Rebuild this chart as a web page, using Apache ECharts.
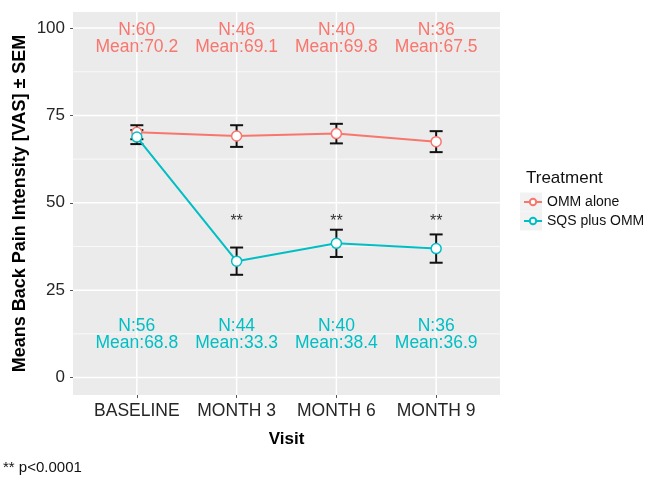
<!DOCTYPE html>
<html>
<head>
<meta charset="utf-8">
<script src="https://cdn.jsdelivr.net/npm/echarts@6/dist/echarts.min.js"></script>
<style>html,body{margin:0;padding:0;background:#fff}#c{width:648px;height:477px}</style>
</head>
<body>
<div id="c"></div>
<script>
// ---- data ----
const categories = ['BASELINE', 'MONTH 3', 'MONTH 6', 'MONTH 9'];
const ommMean = [70.2, 69.1, 69.8, 67.5];
const ommSem = [2.0, 3.1, 2.8, 3.0];
const ommN = [60, 46, 40, 36];
const sqsMean = [68.8, 33.3, 38.4, 36.9];
const sqsSem = [2.0, 3.9, 3.9, 4.05];
const sqsN = [56, 44, 40, 36];
const sigMarks = ['', '**', '**', '**'];
const yTicks = [0, 25, 50, 75, 100];
const yMinor = [12.5, 37.5, 62.5, 87.5];

const RED = '#F8766D', TEAL = '#00BFC4';
const FONT = '"Liberation Sans", Arial, sans-serif';

const chart = echarts.init(document.getElementById('c'), null, {renderer: 'canvas'});

function errData(mean, sem) {
  return mean.map((m, i) => [i, m - sem[i], m + sem[i]]);
}
function errRender(params, api) {
  const x = api.value(0);
  const lo = api.coord([x, api.value(1)]);
  const hi = api.coord([x, api.value(2)]);
  const w = 6.5;
  const st = {stroke: '#111', lineWidth: 2};
  return {type: 'group', children: [
    {type: 'line', shape: {x1: lo[0], y1: lo[1], x2: hi[0], y2: hi[1]}, style: st},
    {type: 'line', shape: {x1: lo[0] - w, y1: lo[1], x2: lo[0] + w, y2: lo[1]}, style: st},
    {type: 'line', shape: {x1: hi[0] - w, y1: hi[1], x2: hi[0] + w, y2: hi[1]}, style: st}
  ]};
}
function annRender(texts, color, yVal, size) {
  return function (params, api) {
    const i = params.dataIndex;
    const p = api.coord([i, yVal]);
    return {type: 'text', x: p[0], y: p[1], style: {
      text: texts[i], fill: color, font: size + 'px ' + FONT,
      align: 'center', verticalAlign: 'middle', lineHeight: 17
    }};
  };
}

const gridSeries = {
  type: 'custom', z: 1, silent: true,
  data: [[0, 0]],
  renderItem: function (params, api) {
    const cs = params.coordSys;
    const ch = [];
    yMinor.forEach(v => {
      const p = api.coord([0, v]);
      ch.push({type: 'line', shape: {x1: cs.x, y1: p[1], x2: cs.x + cs.width, y2: p[1]}, style: {stroke: '#fff', lineWidth: 0.7}});
    });
    yTicks.forEach(v => {
      const p = api.coord([0, v]);
      ch.push({type: 'line', shape: {x1: cs.x, y1: p[1], x2: cs.x + cs.width, y2: p[1]}, style: {stroke: '#fff', lineWidth: 1.5}});
    });
    categories.forEach((c, i) => {
      const p = api.coord([i, 0]);
      ch.push({type: 'line', shape: {x1: p[0], y1: cs.y, x2: p[0], y2: cs.y + cs.height}, style: {stroke: '#fff', lineWidth: 1.5}});
    });
    return {type: 'group', children: ch};
  }
};

const option = {
  animation: false,
  textStyle: {fontFamily: FONT},
  grid: {left: 73, right: 148, top: 12, bottom: 82, show: true, backgroundColor: '#EBEBEB', borderWidth: 0,
         containLabel: false, outerBoundsMode: 'none'},
  xAxis: {
    type: 'value', min: -0.64, max: 3.64,
    name: 'Visit', nameLocation: 'middle', nameGap: 36, nameMoveOverlap: false,
    nameTextStyle: {fontSize: 17, fontWeight: 'bold', color: '#000', fontFamily: FONT},
    axisLine: {show: false, onZero: false},
    axisTick: {show: true, customValues: [0, 1, 2, 3], length: 3, lineStyle: {color: '#555'}},
    axisLabel: {customValues: [0, 1, 2, 3], formatter: v => categories[v], fontSize: 17.5, color: '#262626', margin: 7, fontFamily: FONT},
    splitLine: {show: false}
  },
  yAxis: {
    type: 'value', min: -5, max: 104.6,
    name: 'Means Back Pain Intensity [VAS] \u00B1 SEM', nameLocation: 'middle', nameGap: 44, nameMoveOverlap: false,
    nameTextStyle: {fontSize: 18, fontWeight: 'bold', color: '#000', fontFamily: FONT},
    axisLine: {show: false, onZero: false},
    axisTick: {show: true, customValues: yTicks, length: 3, lineStyle: {color: '#555'}},
    axisLabel: {customValues: yTicks, fontSize: 17, color: '#262626', margin: 8, fontFamily: FONT},
    splitLine: {show: false}
  },
  legend: {
    orient: 'vertical', left: 518, top: 190, itemWidth: 18, itemHeight: 8, itemGap: 5,
    textStyle: {fontSize: 14, color: '#111', fontFamily: FONT},
    data: ['OMM alone', 'SQS plus OMM']
  },
  graphic: [
    {type: 'rect', z: -1, shape: {x: 520, y: 192.5, width: 22, height: 19}, style: {fill: '#F2F2F2'}},
    {type: 'rect', z: -1, shape: {x: 520, y: 211.5, width: 22, height: 19}, style: {fill: '#F2F2F2'}},
    {type: 'text', left: 526, top: 170, style: {text: 'Treatment', font: '17px ' + FONT, fill: '#111'}},
    {type: 'text', left: 3, top: 460, style: {text: '** p<0.0001', font: '15px ' + FONT, fill: '#111'}}
  ],
  series: [
    gridSeries,
    {type: 'custom', z: 2, silent: true, data: errData(ommMean, ommSem), renderItem: errRender},
    {type: 'custom', z: 2, silent: true, data: errData(sqsMean, sqsSem), renderItem: errRender},
    {
      name: 'OMM alone', type: 'line', z: 3,
      data: ommMean.map((v, i) => [i, v]),
      symbol: 'circle', symbolSize: 10,
      lineStyle: {color: RED, width: 2},
      itemStyle: {color: '#fff', borderColor: RED, borderWidth: 1.5}
    },
    {
      name: 'SQS plus OMM', type: 'line', z: 3,
      data: sqsMean.map((v, i) => [i, v]),
      symbol: 'circle', symbolSize: 10,
      lineStyle: {color: TEAL, width: 2},
      itemStyle: {color: '#fff', borderColor: TEAL, borderWidth: 1.5}
    },
    {type: 'custom', z: 4, silent: true, data: ommN.map((n, i) => [i, 97]),
      renderItem: annRender(ommN.map((n, i) => 'N:' + n + '\nMean:' + ommMean[i].toFixed(1)), RED, 97, 17.5)},
    {type: 'custom', z: 4, silent: true, data: sqsN.map((n, i) => [i, 12.3]),
      renderItem: annRender(sqsN.map((n, i) => 'N:' + n + '\nMean:' + sqsMean[i].toFixed(1)), TEAL, 12.3, 17.5)},
    {type: 'custom', z: 4, silent: true, data: sigMarks.map((s, i) => [i, 44.7]),
      renderItem: annRender(sigMarks, '#333', 44.7, 16)}
  ]
};
chart.setOption(option);
</script>
</body>
</html>
